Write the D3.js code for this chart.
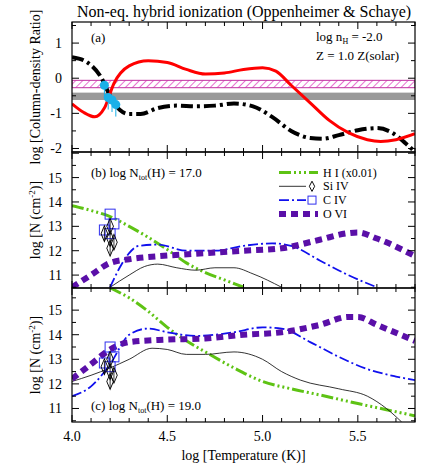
<!DOCTYPE html>
<html><head><meta charset="utf-8">
<script src="https://cdn.jsdelivr.net/npm/d3@7"></script>
<style>body{margin:0;background:#fff}svg text{font-family:'Liberation Serif','Times New Roman',Times,serif}</style>
</head><body><svg width="436" height="468" font-family="Liberation Serif"></svg>
<script>
// panel (a)
const ratioRed = [[4.0,-0.73],[4.06,-0.97],[4.12,-1.1],[4.17,-0.85],[4.22,-0.15],[4.3,0.35],[4.4,0.5],[4.5,0.45],[4.6,0.25],[4.7,0.12],[4.8,0.15],[4.9,0.25],[5.0,0.3],[5.07,0.2],[5.15,-0.2],[5.25,-0.7],[5.35,-1.2],[5.45,-1.55],[5.55,-1.75],[5.62,-1.8],[5.7,-1.75],[5.8,-1.58]];
const ratioBlack = [[4.0,0.6],[4.08,0.45],[4.15,0.05],[4.2,-0.5],[4.25,-0.9],[4.3,-1.02],[4.36,-1.02],[4.45,-0.85],[4.55,-0.78],[4.65,-0.8],[4.75,-0.78],[4.85,-0.72],[4.95,-0.8],[5.05,-1.1],[5.15,-1.5],[5.25,-1.7],[5.32,-1.72],[5.4,-1.62],[5.5,-1.48],[5.6,-1.42],[5.68,-1.55],[5.75,-1.85],[5.8,-2.1]];
const bandMagenta = [-0.27, -0.06];
const bandGray = [-0.62, -0.41];
const obsRatio = [[4.17,-0.2],[4.19,-0.55],[4.21,-0.62],[4.23,-0.75]];
// panel (b)
const hiB = [[4.0,13.85],[4.1,13.65],[4.2,13.4],[4.3,13.0],[4.4,12.55],[4.5,12.05],[4.6,11.5],[4.7,11.1],[4.8,10.8],[4.9,10.5]];
const siB = [[4.2,10.5],[4.3,11.0],[4.38,11.35],[4.45,11.45],[4.55,11.3],[4.65,11.2],[4.75,11.3],[4.85,11.3],[4.95,11.05],[5.1,10.5]];
const cB = [[4.2,10.5],[4.25,11.3],[4.3,11.9],[4.35,12.2],[4.45,12.25],[4.6,12.0],[4.75,12.0],[4.9,12.2],[5.05,12.3],[5.15,12.2],[5.3,11.6],[5.45,11.0],[5.6,10.5]];
const oB = [[4.0,10.5],[4.1,11.0],[4.2,11.5],[4.3,11.65],[4.5,11.8],[4.7,11.9],[4.9,12.0],[5.1,12.1],[5.3,12.45],[5.45,12.72],[5.5,12.75],[5.6,12.5],[5.8,11.78]];
// panel (c)
const hiC = [[4.2,15.9],[4.3,15.5],[4.4,14.95],[4.5,14.3],[4.6,13.75],[4.7,13.3],[4.85,12.65],[5.0,12.1],[5.15,11.8],[5.3,11.55],[5.5,11.2],[5.65,10.95],[5.8,10.7]];
const siC = [[4.0,12.1],[4.1,12.35],[4.2,12.65],[4.3,13.0],[4.42,13.45],[4.5,13.4],[4.6,13.2],[4.7,13.2],[4.85,13.3],[5.0,13.0],[5.1,12.5],[5.2,12.15],[5.4,11.8],[5.55,11.5],[5.65,11.0],[5.73,10.45]];
const cC = [[4.0,11.5],[4.1,11.9],[4.2,12.8],[4.3,14.0],[4.4,14.25],[4.5,14.1],[4.65,13.95],[4.85,14.1],[5.0,14.3],[5.1,14.25],[5.25,13.7],[5.4,13.1],[5.55,12.6],[5.7,12.3],[5.8,12.15]];
const oC = [[4.0,12.2],[4.1,12.8],[4.2,13.4],[4.3,13.7],[4.5,13.8],[4.7,13.85],[4.9,14.0],[5.1,14.1],[5.3,14.4],[5.45,14.72],[5.5,14.72],[5.6,14.4],[5.8,13.75]];
// observed
const obsC = [[4.17,12.85],[4.2,13.5],[4.22,13.1],[4.2,12.7]];
const obsSi = [[4.17,12.7],[4.2,13.0],[4.2,12.5],[4.22,12.35],[4.2,12.1]];
const xTicks = [4.0,4.5,5.0,5.5];

const svg = d3.select("svg");
const L = 72, R = 415;
const x = d3.scaleLinear().domain([4.0,5.8]).range([L,R]);
const panels = [
  {top:22,bot:152,dom:[-2.1,1.6],ticks:[-2,-1,0,1],minor:0.5},
  {top:152,bot:288,dom:[10.47,16.05],ticks:[11,12,13,14,15],minor:0.5},
  {top:288,bot:422,dom:[10.45,15.9],ticks:[11,12,13,14,15],minor:0.5}
];
panels.forEach(p => p.y = d3.scaleLinear().domain(p.dom).range([p.bot,p.top]));

svg.append("defs").append("pattern").attr("id","hatch").attr("width",5).attr("height",5)
  .attr("patternUnits","userSpaceOnUse").attr("patternTransform","rotate(45)")
  .append("line").attr("x1",0).attr("y1",0).attr("x2",0).attr("y2",5).attr("stroke","#e040c0").attr("stroke-width",1.5);
svg.append("clipPath").attr("id","c0").append("rect").attr("x",L).attr("y",22).attr("width",R-L).attr("height",130);
svg.append("clipPath").attr("id","c1").append("rect").attr("x",L).attr("y",152).attr("width",R-L).attr("height",136);
svg.append("clipPath").attr("id","c2").append("rect").attr("x",L).attr("y",288).attr("width",R-L).attr("height",134);

const line = (y) => d3.line().x(d=>x(d[0])).y(d=>y(d[1])).curve(d3.curveMonotoneX);

// panel a
const pa = panels[0], ga = svg.append("g").attr("clip-path","url(#c0)");
ga.append("rect").attr("x",L).attr("width",R-L).attr("y",pa.y(bandGray[1])).attr("height",pa.y(bandGray[0])-pa.y(bandGray[1])).attr("fill","#999");
ga.append("rect").attr("x",L).attr("width",R-L).attr("y",pa.y(bandMagenta[1])).attr("height",pa.y(bandMagenta[0])-pa.y(bandMagenta[1])).attr("fill","url(#hatch)").attr("stroke","#c030a0").attr("stroke-width",1);
ga.append("path").attr("d",line(pa.y)(ratioBlack)).attr("fill","none").attr("stroke","#000").attr("stroke-width",4).attr("stroke-dasharray","12,4,3,4");
ga.append("path").attr("d",line(pa.y)(ratioRed)).attr("fill","none").attr("stroke","#f00").attr("stroke-width",3);
obsRatio.forEach(d => {
  ga.append("line").attr("x1",x(d[0])).attr("x2",x(d[0])).attr("y1",pa.y(d[1])).attr("y2",pa.y(d[1])+12).attr("stroke","#1ab0e8").attr("stroke-width",1);
  ga.append("circle").attr("cx",x(d[0])).attr("cy",pa.y(d[1])).attr("r",4.5).attr("fill","#1ab0e8");
});

function drawModels(i, hi, si, c, o) {
  const p = panels[i], g = svg.append("g").attr("clip-path",`url(#c${i})`);
  g.append("path").attr("d",line(p.y)(hi)).attr("fill","none").attr("stroke","#5ec314").attr("stroke-width",3).attr("stroke-dasharray","12,3,2,3,2,3,2,3");
  g.append("path").attr("d",line(p.y)(si)).attr("fill","none").attr("stroke","#000").attr("stroke-width",0.8);
  g.append("path").attr("d",line(p.y)(c)).attr("fill","none").attr("stroke","#1010ee").attr("stroke-width",1.8).attr("stroke-dasharray","10,3,2,3");
  g.append("path").attr("d",line(p.y)(o)).attr("fill","none").attr("stroke","#5a0fa8").attr("stroke-width",6).attr("stroke-dasharray","7,5");
  obsC.forEach(d => g.append("rect").attr("x",x(d[0])-5).attr("y",p.y(d[1])-5).attr("width",10).attr("height",10).attr("fill","none").attr("stroke","#3030ee").attr("stroke-width",1));
  obsSi.forEach(d => {
    g.append("line").attr("x1",x(d[0])).attr("x2",x(d[0])).attr("y1",p.y(d[1])-6).attr("y2",p.y(d[1])+7).attr("stroke","#000").attr("stroke-width",0.8);
    g.append("path").attr("d",d3.symbol(d3.symbolDiamond,60)()).attr("transform",`translate(${x(d[0])},${p.y(d[1])}) scale(0.8,1.1)`).attr("fill","none").attr("stroke","#000").attr("stroke-width",1);
  });
}
drawModels(1, hiB, siB, cB, oB);
drawModels(2, hiC, siC, cC, oC);

// axes / frames
panels.forEach((p,i) => {
  svg.append("rect").attr("x",L).attr("y",p.top).attr("width",R-L).attr("height",p.bot-p.top).attr("fill","none").attr("stroke","#000").attr("stroke-width",1.2);
  const minorY = d3.range(Math.ceil(p.dom[0]/p.minor)*p.minor, p.dom[1], p.minor);
  minorY.forEach(v => {
    const major = Math.abs(v-Math.round(v))<1e-6, len = major?7:4;
    [[L,L+len],[R,R-len]].forEach(s => svg.append("line").attr("x1",s[0]).attr("x2",s[1]).attr("y1",p.y(v)).attr("y2",p.y(v)).attr("stroke","#000"));
  });
  p.ticks.forEach(v => svg.append("text").attr("x",L-10).attr("y",p.y(v)+5).attr("text-anchor","end").attr("font-size",14).text(v<0?"-"+(-v):v));
  d3.range(40,59).map(v=>v/10).forEach(v => {
    const major = Math.abs(v*2-Math.round(v*2))<1e-6, len = major?7:4;
    [[p.top,p.top+len],[p.bot,p.bot-len]].forEach(s => svg.append("line").attr("x1",x(v)).attr("x2",x(v)).attr("y1",s[0]).attr("y2",s[1]).attr("stroke","#000"));
  });
});
xTicks.forEach(v => svg.append("text").attr("x",x(v)).attr("y",441).attr("text-anchor","middle").attr("font-size",14).text(v.toFixed(1)));
svg.append("text").attr("x",x(4.9)).attr("y",460).attr("text-anchor","middle").attr("font-size",14).text("log [Temperature (K)]");

svg.append("text").attr("x",244).attr("y",17).attr("text-anchor","middle").attr("font-size",16).text("Non-eq. hybrid ionization (Oppenheimer & Schaye)");
const yl = (cy,html) => { const tx = svg.append("text").attr("transform",`translate(40,${cy}) rotate(-90)`).attr("text-anchor","middle").attr("font-size",14); html(tx); };
yl(87,t=>t.text("log [Column-density Ratio]"));
[220,355].forEach(cy => yl(cy,t=>{t.append("tspan").text("log [N (cm");t.append("tspan").attr("dy",-5).attr("font-size",9).text("-2");t.append("tspan").attr("dy",5).text(")]");}));

const txt = (xx,yy,parts) => {
  const t = svg.append("text").attr("x",xx).attr("y",yy).attr("font-size",13);
  parts.forEach(pp => { if (typeof pp==="string") t.append("tspan").text(pp); else t.append("tspan").attr("dy",pp.dy).attr("font-size",pp.fs||8).text(pp.t); });
};
txt(91,42,["(a)"]);
txt(316,41,["log n",{t:"H",dy:3},{t:" = -2.0",dy:-3,fs:13}]);
txt(316,60,["Z = 1.0 Z(solar)"]);
txt(91,177,["(b) log N",{t:"tot",dy:3},{t:"(H) = 17.0",dy:-3,fs:13}]);
txt(91,410,["(c) log N",{t:"tot",dy:3},{t:"(H) = 19.0",dy:-3,fs:13}]);

// legend
const leg = [
  {lab:"H I (x0.01)",c:"#5ec314",w:3,da:"12,3,2,3,2,3,2,3"},
  {lab:"Si IV",c:"#000",w:0.8,da:null,sym:"d"},
  {lab:"C IV",c:"#1010ee",w:1.8,da:"10,3,2,3",sym:"s"},
  {lab:"O VI",c:"#5a0fa8",w:6,da:"7,5"}
];
leg.forEach((d,i) => {
  const yy = 172.5+i*13.8;
  svg.append("line").attr("x1",279).attr("x2",i===1||i===2?306:318).attr("y1",yy).attr("y2",yy).attr("stroke",d.c).attr("stroke-width",d.w).attr("stroke-dasharray",d.da);
  if (d.sym==="d") svg.append("path").attr("d",d3.symbol(d3.symbolDiamond,30)()).attr("transform",`translate(312,${yy}) scale(0.9,1)`).attr("fill","none").attr("stroke","#000");
  if (d.sym==="s") svg.append("rect").attr("x",308).attr("y",yy-4).attr("width",8).attr("height",8).attr("fill","none").attr("stroke","#3030ee");
  svg.append("text").attr("x",323).attr("y",yy+4).attr("font-size",12).text(d.lab);
});
</script></body></html>
